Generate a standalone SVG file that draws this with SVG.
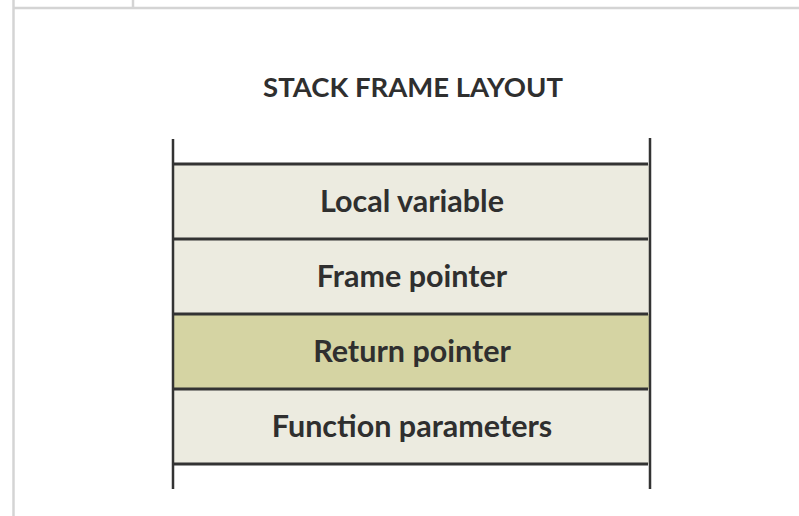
<svg xmlns="http://www.w3.org/2000/svg" width="799" height="516" viewBox="0 0 799 516">
<style>
.frame{stroke:#d4d4d4;stroke-width:2.5;fill:none}
.rule{stroke:#333333;stroke-width:3;fill:none}
.side{stroke:#333333;stroke-width:2.5;fill:none}
.cell{fill:#ecebe0}
.hl{fill:#d5d4a3}
.lbl{font-family:Lato,"Open Sans","Liberation Sans",sans-serif;font-weight:700;font-size:30.5px;fill:#2f2f2f;text-anchor:middle}
.title{font-family:Lato,"Open Sans","Liberation Sans",sans-serif;font-weight:700;font-size:27.5px;fill:#2f2f2f;text-anchor:middle}
</style>
<rect width="799" height="516" fill="#ffffff"/>
<g id="page-frame">
<line class="frame" x1="13.5" y1="8" x2="799" y2="8"/>
<line class="frame" x1="13.5" y1="0" x2="13.5" y2="516"/>
<line class="frame" x1="133" y1="0" x2="133" y2="8"/>
</g>
<text class="title" x="413" y="97">STACK FRAME LAYOUT</text>
<g id="local-variable">
<rect class="cell" x="174" y="164" width="475" height="75"/>
<text class="lbl" x="412" y="212">Local variable</text>
</g>
<g id="frame-pointer">
<rect class="cell" x="174" y="239" width="475" height="75"/>
<text class="lbl" x="412" y="287">Frame pointer</text>
</g>
<g id="return-pointer">
<rect class="hl" x="174" y="314" width="475" height="75"/>
<text class="lbl" x="412" y="362">Return pointer</text>
</g>
<g id="function-parameters">
<rect class="cell" x="174" y="389" width="475" height="75"/>
<text class="lbl" x="412" y="437">Function parameters</text>
</g>
<g id="connectors">
<line class="rule" x1="174" y1="164" x2="648" y2="164"/>
<line class="rule" x1="174" y1="239" x2="648" y2="239"/>
<line class="rule" x1="174" y1="314" x2="648" y2="314"/>
<line class="rule" x1="174" y1="389" x2="648" y2="389"/>
<line class="rule" x1="174" y1="464" x2="648" y2="464"/>
<line class="side" x1="173" y1="139" x2="173" y2="489"/>
<line class="side" x1="650" y1="138" x2="650" y2="489"/>
</g>
</svg>
